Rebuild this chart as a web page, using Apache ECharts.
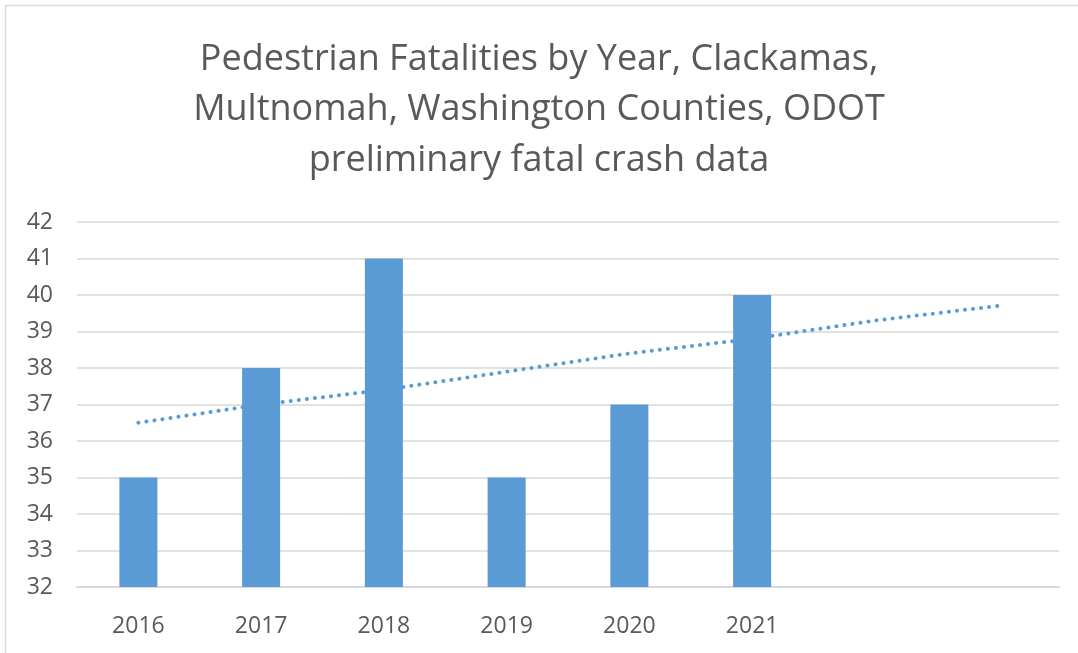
<!DOCTYPE html>
<html>
<head>
<meta charset="utf-8">
<script src="https://cdn.jsdelivr.net/npm/echarts@6/dist/echarts.min.js"></script>
<style>
  html, body { margin: 0; padding: 0; background: #fff; }
  #main { width: 1078px; height: 653px; }
</style>
</head>
<body>
<div id="main"></div>
<script>
// data
var years = ['2016', '2017', '2018', '2019', '2020', '2021', '', ''];
var fatalities = [35, 38, 41, 35, 37, 40, null, null];
// dotted linear trendline, read at each category (runs 2 periods forward)
var trend = [36.5, 37.0, 37.4, 37.9, 38.4, 38.8, 39.3, 39.7];

var myChart = echarts.init(document.getElementById('main'));

myChart.setOption({
    backgroundColor: '#fff',
    animation: false,
    graphic: [{
        type: 'rect',
        shape: { x: 5.5, y: 5.5, width: 1200, height: 800 },
        style: { fill: 'none', stroke: '#d9d9d9', lineWidth: 1.5 },
        z: 0
    }],
    title: {
        text: 'Pedestrian Fatalities by Year, Clackamas,\nMultnomah, Washington Counties, ODOT\npreliminary fatal crash data',
        left: 'center',
        top: 29,
        padding: [5, 0, 5, 16],
        textStyle: {
            fontFamily: 'Open Sans',
            fontWeight: 'normal',
            fontSize: 36,
            lineHeight: 50.5,
            color: '#595959'
        }
    },
    grid: { left: 77, right: 19, top: 222, bottom: 66 },
    xAxis: {
        type: 'category',
        data: years,
        axisLine: { show: true, lineStyle: { color: '#d9d9d9', width: 2 } },
        axisTick: { show: false },
        axisLabel: {
            color: '#595959',
            fontFamily: 'Open Sans',
            fontSize: 23,
            margin: 28
        }
    },
    yAxis: {
        type: 'value',
        min: 32,
        max: 42,
        interval: 1,
        axisLine: { show: false },
        axisTick: { show: false },
        splitLine: { lineStyle: { color: '#d9d9d9', width: 1.5 } },
        axisLabel: {
            color: '#595959',
            fontFamily: 'Open Sans',
            fontSize: 23,
            margin: 24
        }
    },
    series: [{
        name: 'Trend',
        type: 'line',
        data: trend,
        symbol: 'none',
        z: 1,
        lineStyle: { color: '#5b9bd5', width: 4, type: [0.1, 8], cap: 'round' }
    }, {
        name: 'Fatalities',
        type: 'bar',
        data: fatalities,
        barWidth: 38,
        z: 2,
        itemStyle: { color: '#5b9bd5' }
    }]
});
</script>
</body>
</html>
